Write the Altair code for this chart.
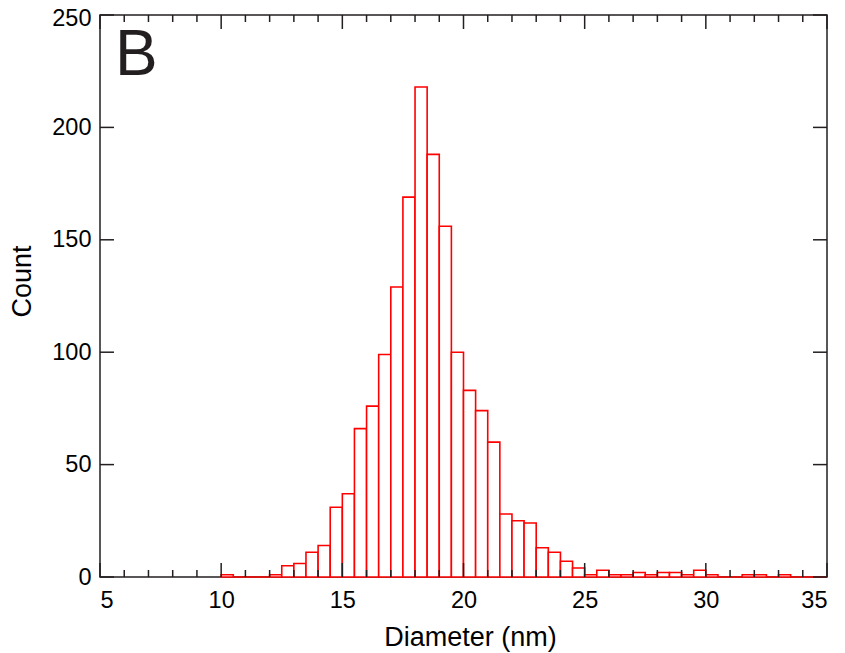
import altair as alt
import pandas as pd

# Histogram data (bin width 0.5 nm starting at 10 nm)
bin_width = 0.5
bin_first = 10.0
counts = [1, 0, 0, 0, 1, 5, 6, 11, 14, 31,
          37, 66, 76, 99, 129, 169, 218, 188, 156, 100,
          83, 74, 60, 28, 25, 24, 13, 11, 7, 4,
          1, 3, 1, 1, 2, 1, 2, 2, 1, 3,
          1, 0, 0, 1, 1, 0, 1, 0, 0, 0]

x_major = [5, 10, 15, 20, 25, 30, 35]
x_minor = [v for v in range(5, 36) if v % 5 != 0]
y_major = [0, 50, 100, 150, 200, 250]

W, H = 727, 562
FONT = "Liberation Sans"

bins = pd.DataFrame({
    "start": [bin_first + i * bin_width for i in range(len(counts))],
    "count": counts,
})
bins["end"] = bins["start"] + bin_width
bins["zero"] = 0

xscale = alt.Scale(domain=[5, 35], nice=False, zero=False)
yscale = alt.Scale(domain=[0, 250], nice=False)

bars = alt.Chart(bins).mark_bar(
    fill="white", stroke="#ff0000", strokeWidth=1.6
).encode(
    x=alt.X("start:Q", scale=xscale,
            axis=alt.Axis(values=x_major, tickSize=0, domain=False, grid=False,
                          labelFontSize=23.5, labelFont=FONT, labelColor="black",
                          labelPadding=11, title="Diameter (nm)",
                          titleFont=FONT, titleFontSize=27, titleFontWeight="normal",
                          titleColor="black", titleX=370, titleY=68,
                          titleBaseline="alphabetic", titleAnchor="middle",
                          titleAlign="center")),
    x2="end:Q",
    y=alt.Y("count:Q", scale=yscale,
            axis=alt.Axis(values=y_major, tickSize=0, domain=False, grid=False,
                          labelFontSize=23.5, labelFont=FONT, labelColor="black",
                          labelPadding=9,
                          labelOffset={"condition": {"test": "datum.value == 250", "value": 3}, "value": 0},
                          title="Count",
                          titleFont=FONT, titleFontSize=27, titleFontWeight="normal",
                          titleColor="black", titleX=-78, titleY=266,
                          titleBaseline="middle", titleAngle=-90,
                          titleAlign="center")),
    y2="zero:Q",
)

xmaj = pd.DataFrame({"v": x_major})
xmin = pd.DataFrame({"v": x_minor})
ymaj = pd.DataFrame({"v": y_major})

tick_color = "#231f20"

bottom_major = alt.Chart(xmaj).mark_rule(color=tick_color, strokeWidth=1.5).encode(
    x=alt.X("v:Q", scale=xscale), y=alt.value(H), y2=alt.value(H - 14))
top_major = alt.Chart(xmaj).mark_rule(color=tick_color, strokeWidth=1.5).encode(
    x=alt.X("v:Q", scale=xscale), y=alt.value(0), y2=alt.value(14))
bottom_minor = alt.Chart(xmin).mark_rule(color=tick_color, strokeWidth=1.5).encode(
    x=alt.X("v:Q", scale=xscale), y=alt.value(H), y2=alt.value(H - 7))
top_minor = alt.Chart(xmin).mark_rule(color=tick_color, strokeWidth=1.5).encode(
    x=alt.X("v:Q", scale=xscale), y=alt.value(0), y2=alt.value(7))
left_major = alt.Chart(ymaj).mark_rule(color=tick_color, strokeWidth=1.5).encode(
    y=alt.Y("v:Q", scale=yscale), x=alt.value(0), x2=alt.value(14))
right_major = alt.Chart(ymaj).mark_rule(color=tick_color, strokeWidth=1.5).encode(
    y=alt.Y("v:Q", scale=yscale), x=alt.value(W), x2=alt.value(W - 14))

label = alt.Chart(pd.DataFrame({"t": ["B"]})).mark_text(
    font=FONT, fontSize=64, color="#231f20", align="left", baseline="alphabetic"
).encode(text="t:N", x=alt.value(15), y=alt.value(60))

chart = alt.layer(
    bars, bottom_major, top_major, bottom_minor, top_minor, left_major, right_major, label
).properties(
    width=W, height=H,
    autosize=alt.AutoSizeParams(type="none"),
    padding={"left": 92, "top": 7, "right": 10, "bottom": 78},
    background="white",
).configure_view(
    stroke="#231f20", strokeWidth=1.5
)

chart.save("out.html", embed_options={"renderer": "svg", "actions": False})
